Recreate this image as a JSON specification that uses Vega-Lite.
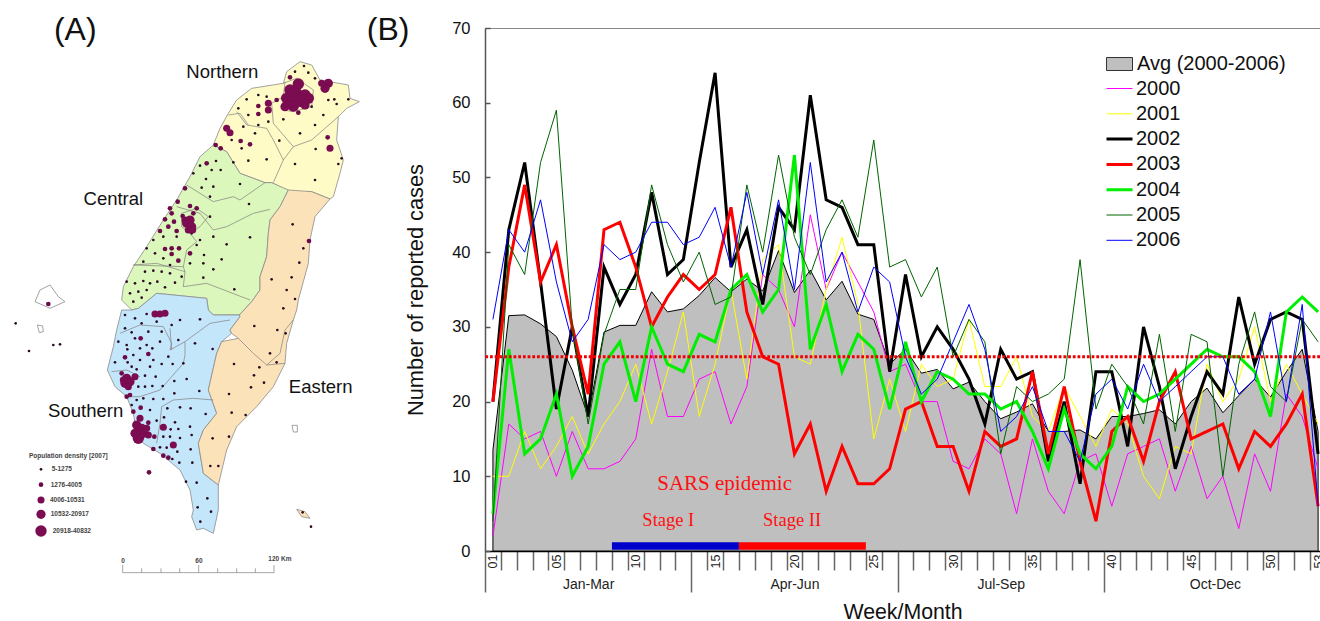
{"$schema":"https://vega.github.io/schema/vega-lite/v6.json","padding":{"left":0,"top":13,"right":0,"bottom":0},"background":"white","bounds":"flush","spacing":0,"resolve":{"scale":{"fill":"independent","stroke":"independent","strokeWidth":"independent","size":"independent"},"legend":{"fill":"independent","stroke":"independent","strokeWidth":"independent","size":"independent"}},"config":{"font":"Liberation Sans","axis":{"grid":false},"view":{"stroke":null}},"datasets":{"regions":[{"type":"Feature","properties":{"region":"Northern"},"geometry":{"type":"Polygon","coordinates":[[[640,435],[660,385],[685,340],[710,300],[755,265],[850,250],[860,215],[900,185],[935,195],[960,240],[1045,255],[1050,295],[1078,305],[1040,325],[1015,350],[1010,420],[1030,480],[1020,520],[1000,590],[990,597],[935,575],[880,580],[860,570],[815,548],[795,548],[720,520],[680,455],[640,435]]]}},{"type":"Feature","properties":{"region":"Central"},"geometry":{"type":"Polygon","coordinates":[[[640,435],[680,455],[720,520],[795,548],[815,548],[865,570],[840,620],[810,660],[805,700],[800,770],[780,830],[780,870],[755,905],[718,945],[640,945],[625,930],[620,895],[470,880],[415,925],[395,930],[365,900],[370,860],[400,800],[440,740],[490,660],[530,600],[570,530],[600,470],[640,435]]]}},{"type":"Feature","properties":{"region":"Southern"},"geometry":{"type":"Polygon","coordinates":[[[415,925],[470,880],[620,895],[625,930],[640,945],[718,945],[720,950],[690,990],[695,1000],[665,1025],[650,1060],[625,1170],[650,1240],[610,1290],[595,1330],[610,1420],[655,1455],[655,1530],[640,1600],[610,1585],[590,1590],[575,1550],[580,1530],[570,1470],[540,1410],[480,1360],[430,1330],[410,1300],[400,1240],[380,1190],[345,1160],[322,1110],[340,1040],[350,990],[365,930],[395,930],[415,925]]]}},{"type":"Feature","properties":{"region":"Eastern"},"geometry":{"type":"Polygon","coordinates":[[[865,570],[935,575],[990,597],[945,650],[930,720],[925,790],[895,900],[890,930],[880,960],[860,1030],[855,1090],[820,1160],[770,1220],[710,1280],[680,1350],[655,1455],[610,1420],[595,1330],[610,1290],[650,1240],[625,1170],[650,1060],[665,1025],[715,1015],[695,1000],[690,990],[720,950],[718,945],[755,905],[780,870],[780,830],[800,770],[805,700],[810,660],[840,620],[865,570]]]}},{"type":"Feature","properties":{"region":"Eastern"},"geometry":{"type":"Polygon","coordinates":[[[890,1528],[915,1535],[930,1555],[905,1550],[890,1528]]]}},{"type":"Feature","properties":{"region":"Island"},"geometry":{"type":"Polygon","coordinates":[[[105,905],[120,870],[150,855],[175,890],[195,905],[150,925],[105,905]]]}},{"type":"Feature","properties":{"region":"Island"},"geometry":{"type":"Polygon","coordinates":[[[112,975],[128,978],[130,995],[118,998],[112,975]]]}},{"type":"Feature","properties":{"region":"Island"},"geometry":{"type":"Polygon","coordinates":[[[876,1276],[892,1276],[892,1296],[880,1296],[876,1276]]]}}],"borders":[{"type":"Feature","properties":{"kind":"county"},"geometry":{"type":"MultiLineString","coordinates":[[[815,310],[820,370],[880,440],[935,420],[1015,350]],[[710,335],[740,375],[800,385],[820,420],[850,480],[820,548]],[[850,480],[880,440]],[[685,345],[720,340],[745,375]],[[855,245],[850,290],[815,310]],[[850,250],[890,235],[940,270],[935,320],[880,335],[850,330]],[[560,555],[640,605],[700,590],[720,600],[795,548]],[[530,620],[600,640],[640,690],[680,680],[760,640],[810,628]],[[545,640],[590,625],[625,650],[600,680],[570,700],[545,680],[545,640]],[[570,700],[590,725],[560,750],[550,800],[400,795]],[[550,800],[555,815],[550,860],[620,850],[750,900]],[[400,795],[470,790],[555,815]],[[360,1000],[420,975],[490,980],[515,1030],[510,1050],[555,1025],[630,970],[690,960]],[[510,985],[515,1050]],[[335,1115],[380,1110],[420,1130]],[[555,1065],[550,1090],[480,1170],[420,1190],[380,1190]],[[555,1025],[555,1065]],[[640,1200],[580,1195],[520,1200],[485,1220],[480,1270],[470,1330]],[[715,1015],[760,1060],[800,1095],[855,1090]],[[880,960],[855,990],[840,1060],[800,1095]]]}},{"type":"Feature","properties":{"kind":"scale bar"},"geometry":{"type":"MultiLineString","coordinates":[[[368,1718],[822,1718]],[[368,1718],[368,1695]],[[425,1718],[425,1705]],[[483,1718],[483,1705]],[[539,1718],[539,1705]],[[596,1718],[596,1695]],[[653,1718],[653,1705]],[[710,1718],[710,1705]],[[766,1718],[766,1705]],[[822,1718],[822,1695]]]}}],"dots":[{"gx":912,"gy":198,"cls":1},{"gx":925,"gy":218,"cls":1},{"gx":885,"gy":215,"cls":1},{"gx":945,"gy":235,"cls":1},{"gx":740,"gy":298,"cls":1},{"gx":775,"gy":285,"cls":1},{"gx":715,"gy":325,"cls":1},{"gx":745,"gy":345,"cls":1},{"gx":800,"gy":290,"cls":1},{"gx":805,"gy":365,"cls":1},{"gx":850,"gy":358,"cls":1},{"gx":900,"gy":400,"cls":1},{"gx":945,"gy":375,"cls":1},{"gx":970,"gy":345,"cls":1},{"gx":1010,"gy":312,"cls":1},{"gx":1045,"gy":298,"cls":1},{"gx":1003,"gy":298,"cls":1},{"gx":985,"gy":300,"cls":1},{"gx":935,"gy":320,"cls":1},{"gx":775,"gy":375,"cls":1},{"gx":730,"gy":380,"cls":1},{"gx":765,"gy":400,"cls":1},{"gx":725,"gy":445,"cls":1},{"gx":695,"gy":420,"cls":1},{"gx":745,"gy":482,"cls":1},{"gx":800,"gy":478,"cls":1},{"gx":838,"gy":422,"cls":1},{"gx":885,"gy":492,"cls":1},{"gx":945,"gy":540,"cls":1},{"gx":947,"gy":447,"cls":1},{"gx":1015,"gy":492,"cls":1},{"gx":1025,"gy":475,"cls":1},{"gx":870,"gy":232,"cls":2},{"gx":830,"gy":300,"cls":2},{"gx":775,"gy":342,"cls":2},{"gx":775,"gy":318,"cls":2},{"gx":722,"gy":423,"cls":2},{"gx":750,"gy":433,"cls":2},{"gx":983,"gy":412,"cls":2},{"gx":647,"gy":435,"cls":2},{"gx":662,"gy":445,"cls":2},{"gx":895,"gy":252,"cls":5},{"gx":870,"gy":270,"cls":5},{"gx":890,"gy":280,"cls":5},{"gx":915,"gy":285,"cls":5},{"gx":860,"gy":295,"cls":5},{"gx":880,"gy":300,"cls":5},{"gx":905,"gy":305,"cls":5},{"gx":925,"gy":295,"cls":5},{"gx":855,"gy":320,"cls":4},{"gx":880,"gy":318,"cls":5},{"gx":915,"gy":315,"cls":4},{"gx":895,"gy":338,"cls":2},{"gx":805,"gy":310,"cls":3},{"gx":805,"gy":330,"cls":3},{"gx":985,"gy":250,"cls":4},{"gx":975,"gy":265,"cls":4},{"gx":965,"gy":250,"cls":3},{"gx":680,"gy":385,"cls":3},{"gx":690,"gy":398,"cls":3},{"gx":990,"gy":445,"cls":3},{"gx":580,"gy":520,"cls":1},{"gx":600,"gy":497,"cls":1},{"gx":648,"gy":483,"cls":1},{"gx":635,"gy":510,"cls":1},{"gx":662,"gy":510,"cls":1},{"gx":700,"gy":487,"cls":1},{"gx":618,"gy":537,"cls":1},{"gx":640,"gy":560,"cls":1},{"gx":605,"gy":563,"cls":1},{"gx":720,"gy":552,"cls":1},{"gx":747,"gy":612,"cls":1},{"gx":630,"gy":590,"cls":1},{"gx":630,"gy":650,"cls":1},{"gx":640,"gy":710,"cls":1},{"gx":680,"gy":733,"cls":1},{"gx":750,"gy":712,"cls":1},{"gx":612,"gy":765,"cls":1},{"gx":665,"gy":778,"cls":1},{"gx":610,"gy":790,"cls":1},{"gx":640,"gy":808,"cls":1},{"gx":610,"gy":833,"cls":1},{"gx":703,"gy":868,"cls":1},{"gx":490,"gy":710,"cls":1},{"gx":460,"gy":720,"cls":1},{"gx":440,"gy":745,"cls":1},{"gx":465,"gy":760,"cls":1},{"gx":530,"gy":710,"cls":1},{"gx":575,"gy":700,"cls":1},{"gx":600,"gy":720,"cls":1},{"gx":590,"gy":735,"cls":1},{"gx":430,"gy":785,"cls":1},{"gx":510,"gy":795,"cls":1},{"gx":490,"gy":775,"cls":1},{"gx":570,"gy":790,"cls":1},{"gx":435,"gy":815,"cls":1},{"gx":460,"gy":812,"cls":1},{"gx":485,"gy":815,"cls":1},{"gx":510,"gy":820,"cls":1},{"gx":545,"gy":830,"cls":1},{"gx":380,"gy":845,"cls":1},{"gx":405,"gy":850,"cls":1},{"gx":430,"gy":843,"cls":1},{"gx":450,"gy":850,"cls":1},{"gx":472,"gy":845,"cls":1},{"gx":495,"gy":862,"cls":1},{"gx":525,"gy":848,"cls":1},{"gx":415,"gy":875,"cls":1},{"gx":390,"gy":880,"cls":1},{"gx":440,"gy":870,"cls":1},{"gx":400,"gy":905,"cls":1},{"gx":425,"gy":893,"cls":1},{"gx":620,"gy":490,"cls":2},{"gx":555,"gy":565,"cls":2},{"gx":533,"gy":605,"cls":2},{"gx":510,"gy":625,"cls":2},{"gx":570,"gy":618,"cls":2},{"gx":515,"gy":640,"cls":2},{"gx":590,"gy":625,"cls":2},{"gx":495,"gy":658,"cls":2},{"gx":522,"gy":665,"cls":2},{"gx":505,"gy":680,"cls":2},{"gx":480,"gy":693,"cls":2},{"gx":530,"gy":693,"cls":2},{"gx":548,"gy":648,"cls":2},{"gx":495,"gy":747,"cls":2},{"gx":537,"gy":745,"cls":2},{"gx":515,"gy":745,"cls":2},{"gx":570,"gy":760,"cls":2},{"gx":515,"gy":762,"cls":2},{"gx":535,"gy":782,"cls":2},{"gx":580,"gy":640,"cls":2},{"gx":570,"gy":660,"cls":4},{"gx":560,"gy":670,"cls":4},{"gx":575,"gy":680,"cls":4},{"gx":565,"gy":690,"cls":3},{"gx":578,"gy":690,"cls":3},{"gx":555,"gy":660,"cls":3},{"gx":878,"gy":673,"cls":1},{"gx":910,"gy":745,"cls":1},{"gx":898,"gy":788,"cls":1},{"gx":815,"gy":838,"cls":1},{"gx":875,"gy":832,"cls":1},{"gx":860,"gy":870,"cls":1},{"gx":885,"gy":897,"cls":1},{"gx":850,"gy":925,"cls":1},{"gx":927,"gy":723,"cls":2},{"gx":375,"gy":945,"cls":1},{"gx":405,"gy":955,"cls":1},{"gx":440,"gy":942,"cls":1},{"gx":540,"gy":960,"cls":1},{"gx":600,"gy":958,"cls":1},{"gx":425,"gy":970,"cls":1},{"gx":470,"gy":965,"cls":1},{"gx":515,"gy":975,"cls":1},{"gx":375,"gy":985,"cls":1},{"gx":395,"gy":997,"cls":1},{"gx":445,"gy":995,"cls":1},{"gx":485,"gy":995,"cls":1},{"gx":405,"gy":1015,"cls":1},{"gx":535,"gy":1020,"cls":1},{"gx":355,"gy":1025,"cls":1},{"gx":380,"gy":1035,"cls":1},{"gx":440,"gy":1035,"cls":1},{"gx":480,"gy":1025,"cls":1},{"gx":585,"gy":1030,"cls":1},{"gx":638,"gy":1047,"cls":1},{"gx":382,"gy":1048,"cls":1},{"gx":420,"gy":1045,"cls":1},{"gx":457,"gy":1045,"cls":1},{"gx":400,"gy":1065,"cls":1},{"gx":505,"gy":1070,"cls":1},{"gx":345,"gy":1087,"cls":1},{"gx":383,"gy":1087,"cls":1},{"gx":420,"gy":1080,"cls":1},{"gx":460,"gy":1080,"cls":1},{"gx":485,"gy":1092,"cls":1},{"gx":518,"gy":1092,"cls":1},{"gx":395,"gy":1100,"cls":1},{"gx":450,"gy":1100,"cls":1},{"gx":550,"gy":1090,"cls":1},{"gx":410,"gy":1108,"cls":1},{"gx":435,"gy":1127,"cls":1},{"gx":467,"gy":1130,"cls":1},{"gx":523,"gy":1143,"cls":1},{"gx":560,"gy":1137,"cls":1},{"gx":415,"gy":1160,"cls":1},{"gx":435,"gy":1160,"cls":1},{"gx":457,"gy":1158,"cls":1},{"gx":488,"gy":1158,"cls":1},{"gx":598,"gy":1173,"cls":1},{"gx":523,"gy":1180,"cls":1},{"gx":395,"gy":1215,"cls":1},{"gx":430,"gy":1195,"cls":1},{"gx":460,"gy":1197,"cls":1},{"gx":490,"gy":1197,"cls":1},{"gx":410,"gy":1200,"cls":1},{"gx":450,"gy":1230,"cls":1},{"gx":502,"gy":1225,"cls":1},{"gx":540,"gy":1222,"cls":1},{"gx":572,"gy":1225,"cls":1},{"gx":617,"gy":1242,"cls":1},{"gx":470,"gy":1262,"cls":1},{"gx":492,"gy":1252,"cls":1},{"gx":525,"gy":1267,"cls":1},{"gx":570,"gy":1280,"cls":1},{"gx":512,"gy":1288,"cls":1},{"gx":535,"gy":1287,"cls":1},{"gx":575,"gy":1305,"cls":1},{"gx":490,"gy":1310,"cls":1},{"gx":510,"gy":1310,"cls":1},{"gx":540,"gy":1314,"cls":1},{"gx":572,"gy":1348,"cls":1},{"gx":480,"gy":1342,"cls":1},{"gx":500,"gy":1343,"cls":1},{"gx":532,"gy":1355,"cls":1},{"gx":538,"gy":1388,"cls":1},{"gx":577,"gy":1388,"cls":1},{"gx":517,"gy":1377,"cls":1},{"gx":558,"gy":1445,"cls":1},{"gx":590,"gy":1448,"cls":1},{"gx":622,"gy":1495,"cls":1},{"gx":593,"gy":1522,"cls":1},{"gx":633,"gy":1535,"cls":1},{"gx":601,"gy":1565,"cls":1},{"gx":422,"gy":1015,"cls":2},{"gx":375,"gy":1072,"cls":2},{"gx":445,"gy":1062,"cls":2},{"gx":365,"gy":1120,"cls":2},{"gx":390,"gy":1185,"cls":2},{"gx":380,"gy":1190,"cls":2},{"gx":422,"gy":1223,"cls":2},{"gx":400,"gy":1235,"cls":2},{"gx":490,"gy":1282,"cls":3},{"gx":520,"gy":1335,"cls":3},{"gx":460,"gy":1347,"cls":2},{"gx":490,"gy":1367,"cls":2},{"gx":505,"gy":1373,"cls":2},{"gx":447,"gy":1417,"cls":2},{"gx":463,"gy":1310,"cls":2},{"gx":445,"gy":1268,"cls":2},{"gx":465,"gy":942,"cls":3},{"gx":480,"gy":942,"cls":3},{"gx":495,"gy":940,"cls":3},{"gx":380,"gy":1135,"cls":4},{"gx":375,"gy":1150,"cls":4},{"gx":390,"gy":1145,"cls":4},{"gx":385,"gy":1160,"cls":3},{"gx":405,"gy":1130,"cls":3},{"gx":370,"gy":1140,"cls":3},{"gx":420,"gy":1255,"cls":3},{"gx":410,"gy":1275,"cls":4},{"gx":425,"gy":1285,"cls":4},{"gx":415,"gy":1295,"cls":4},{"gx":430,"gy":1300,"cls":4},{"gx":445,"gy":1305,"cls":3},{"gx":415,"gy":1315,"cls":5},{"gx":440,"gy":1285,"cls":3},{"gx":405,"gy":1300,"cls":4},{"gx":763,"gy":978,"cls":1},{"gx":832,"gy":990,"cls":1},{"gx":857,"gy":1000,"cls":1},{"gx":810,"gy":1060,"cls":1},{"gx":830,"gy":1087,"cls":1},{"gx":778,"gy":1102,"cls":1},{"gx":702,"gy":1092,"cls":1},{"gx":762,"gy":1126,"cls":1},{"gx":792,"gy":1148,"cls":1},{"gx":753,"gy":1162,"cls":1},{"gx":687,"gy":1182,"cls":1},{"gx":695,"gy":1238,"cls":1},{"gx":737,"gy":1245,"cls":1},{"gx":638,"gy":1315,"cls":1},{"gx":687,"gy":1310,"cls":1},{"gx":631,"gy":1398,"cls":1},{"gx":655,"gy":1398,"cls":1},{"gx":908,"gy":1537,"cls":1},{"gx":933,"gy":1580,"cls":1},{"gx":145,"gy":912,"cls":2},{"gx":87,"gy":1053,"cls":1},{"gx":160,"gy":1035,"cls":1},{"gx":180,"gy":1033,"cls":1},{"gx":47,"gy":970,"cls":1},{"gx":123,"gy":1408,"cls":1},{"gx":123,"gy":1454,"cls":2},{"gx":123,"gy":1500,"cls":3},{"gx":123,"gy":1543,"cls":4},{"gx":123,"gy":1593,"cls":5}],"panelLabels":[{"week":-25.32,"cases":69.75,"label":"(A)"},{"week":-5.6,"cases":69.75,"label":"(B)"}],"mapRegions":[{"gx":667,"gy":217,"label":"Northern"},{"gx":340,"gy":598,"label":"Central"},{"gx":962,"gy":1160,"label":"Eastern"},{"gx":257,"gy":1232,"label":"Southern"}],"mapSmallText":[{"gx":87,"gy":1368,"label":"Population density [2007]"},{"gx":155,"gy":1408,"label":"5-1275"},{"gx":152,"gy":1454,"label":"1276-4005"},{"gx":150,"gy":1500,"label":"4006-10531"},{"gx":152,"gy":1543,"label":"10532-20917"},{"gx":158,"gy":1593,"label":"20918-40832"},{"gx":364,"gy":1682,"label":"0"},{"gx":586,"gy":1682,"label":"60"},{"gx":805,"gy":1677,"label":"120 Km"}],"avg":[{"week":1,"series":"Avg (2000-2006)","cases":13.5},{"week":2,"series":"Avg (2000-2006)","cases":31.5},{"week":3,"series":"Avg (2000-2006)","cases":31.6},{"week":4,"series":"Avg (2000-2006)","cases":30.4},{"week":5,"series":"Avg (2000-2006)","cases":28.7},{"week":6,"series":"Avg (2000-2006)","cases":24.2},{"week":7,"series":"Avg (2000-2006)","cases":18},{"week":8,"series":"Avg (2000-2006)","cases":29.3},{"week":9,"series":"Avg (2000-2006)","cases":30.2},{"week":10,"series":"Avg (2000-2006)","cases":30.2},{"week":11,"series":"Avg (2000-2006)","cases":34.7},{"week":12,"series":"Avg (2000-2006)","cases":32},{"week":13,"series":"Avg (2000-2006)","cases":32.4},{"week":14,"series":"Avg (2000-2006)","cases":34.2},{"week":15,"series":"Avg (2000-2006)","cases":36.6},{"week":16,"series":"Avg (2000-2006)","cases":34.7},{"week":17,"series":"Avg (2000-2006)","cases":36.4},{"week":18,"series":"Avg (2000-2006)","cases":34.8},{"week":19,"series":"Avg (2000-2006)","cases":40.2},{"week":20,"series":"Avg (2000-2006)","cases":34.6},{"week":21,"series":"Avg (2000-2006)","cases":37.6},{"week":22,"series":"Avg (2000-2006)","cases":33.6},{"week":23,"series":"Avg (2000-2006)","cases":36.1},{"week":24,"series":"Avg (2000-2006)","cases":31.7},{"week":25,"series":"Avg (2000-2006)","cases":31},{"week":26,"series":"Avg (2000-2006)","cases":25},{"week":27,"series":"Avg (2000-2006)","cases":27},{"week":28,"series":"Avg (2000-2006)","cases":23.8},{"week":29,"series":"Avg (2000-2006)","cases":24.3},{"week":30,"series":"Avg (2000-2006)","cases":21.7},{"week":31,"series":"Avg (2000-2006)","cases":22.6},{"week":32,"series":"Avg (2000-2006)","cases":20},{"week":33,"series":"Avg (2000-2006)","cases":17.7},{"week":34,"series":"Avg (2000-2006)","cases":18.6},{"week":35,"series":"Avg (2000-2006)","cases":19.7},{"week":36,"series":"Avg (2000-2006)","cases":16},{"week":37,"series":"Avg (2000-2006)","cases":16},{"week":38,"series":"Avg (2000-2006)","cases":16.2},{"week":39,"series":"Avg (2000-2006)","cases":15},{"week":40,"series":"Avg (2000-2006)","cases":18},{"week":41,"series":"Avg (2000-2006)","cases":18},{"week":42,"series":"Avg (2000-2006)","cases":18.4},{"week":43,"series":"Avg (2000-2006)","cases":18.9},{"week":44,"series":"Avg (2000-2006)","cases":17},{"week":45,"series":"Avg (2000-2006)","cases":20},{"week":46,"series":"Avg (2000-2006)","cases":21.8},{"week":47,"series":"Avg (2000-2006)","cases":18.5},{"week":48,"series":"Avg (2000-2006)","cases":20.8},{"week":49,"series":"Avg (2000-2006)","cases":23},{"week":50,"series":"Avg (2000-2006)","cases":20.6},{"week":51,"series":"Avg (2000-2006)","cases":24},{"week":52,"series":"Avg (2000-2006)","cases":27},{"week":53,"series":"Avg (2000-2006)","cases":16}],"stages":[{"stage":"Stage I","start":8.5,"end":16.5},{"stage":"Stage II","start":16.5,"end":24.5}],"notes":[{"week":15.6,"cases":9,"label":"SARS epidemic"},{"week":12.05,"cases":4.2,"label":"Stage I"},{"week":19.85,"cases":4.2,"label":"Stage II"}],"years":[{"week":1,"year":"2000","cases":2},{"week":2,"year":"2000","cases":17},{"week":3,"year":"2000","cases":15},{"week":4,"year":"2000","cases":16},{"week":5,"year":"2000","cases":10},{"week":6,"year":"2000","cases":16},{"week":7,"year":"2000","cases":11},{"week":8,"year":"2000","cases":11},{"week":9,"year":"2000","cases":12},{"week":10,"year":"2000","cases":15},{"week":11,"year":"2000","cases":27},{"week":12,"year":"2000","cases":18},{"week":13,"year":"2000","cases":18},{"week":14,"year":"2000","cases":23},{"week":15,"year":"2000","cases":24},{"week":16,"year":"2000","cases":17},{"week":17,"year":"2000","cases":22},{"week":18,"year":"2000","cases":37},{"week":19,"year":"2000","cases":35},{"week":20,"year":"2000","cases":30},{"week":21,"year":"2000","cases":45},{"week":22,"year":"2000","cases":35},{"week":23,"year":"2000","cases":40},{"week":24,"year":"2000","cases":36},{"week":25,"year":"2000","cases":32},{"week":26,"year":"2000","cases":24},{"week":27,"year":"2000","cases":25},{"week":28,"year":"2000","cases":20},{"week":29,"year":"2000","cases":20},{"week":30,"year":"2000","cases":12},{"week":31,"year":"2000","cases":11},{"week":32,"year":"2000","cases":15},{"week":33,"year":"2000","cases":13},{"week":34,"year":"2000","cases":5},{"week":35,"year":"2000","cases":15},{"week":36,"year":"2000","cases":8},{"week":37,"year":"2000","cases":5},{"week":38,"year":"2000","cases":12},{"week":39,"year":"2000","cases":13},{"week":40,"year":"2000","cases":6},{"week":41,"year":"2000","cases":13},{"week":42,"year":"2000","cases":14},{"week":43,"year":"2000","cases":15},{"week":44,"year":"2000","cases":8},{"week":45,"year":"2000","cases":14},{"week":46,"year":"2000","cases":7},{"week":47,"year":"2000","cases":10},{"week":48,"year":"2000","cases":3},{"week":49,"year":"2000","cases":13},{"week":50,"year":"2000","cases":8},{"week":51,"year":"2000","cases":21},{"week":52,"year":"2000","cases":18},{"week":53,"year":"2000","cases":11},{"week":1,"year":"2001","cases":10},{"week":2,"year":"2001","cases":10},{"week":3,"year":"2001","cases":16},{"week":4,"year":"2001","cases":11},{"week":5,"year":"2001","cases":14},{"week":6,"year":"2001","cases":18},{"week":7,"year":"2001","cases":13},{"week":8,"year":"2001","cases":17},{"week":9,"year":"2001","cases":20},{"week":10,"year":"2001","cases":25},{"week":11,"year":"2001","cases":17},{"week":12,"year":"2001","cases":24},{"week":13,"year":"2001","cases":32},{"week":14,"year":"2001","cases":18},{"week":15,"year":"2001","cases":25},{"week":16,"year":"2001","cases":35},{"week":17,"year":"2001","cases":23},{"week":18,"year":"2001","cases":39},{"week":19,"year":"2001","cases":41},{"week":20,"year":"2001","cases":26},{"week":21,"year":"2001","cases":25},{"week":22,"year":"2001","cases":35},{"week":23,"year":"2001","cases":42},{"week":24,"year":"2001","cases":33},{"week":25,"year":"2001","cases":15},{"week":26,"year":"2001","cases":23},{"week":27,"year":"2001","cases":16},{"week":28,"year":"2001","cases":25},{"week":29,"year":"2001","cases":22},{"week":30,"year":"2001","cases":23},{"week":31,"year":"2001","cases":31},{"week":32,"year":"2001","cases":22},{"week":33,"year":"2001","cases":22},{"week":34,"year":"2001","cases":26},{"week":35,"year":"2001","cases":18},{"week":36,"year":"2001","cases":16},{"week":37,"year":"2001","cases":22},{"week":38,"year":"2001","cases":18},{"week":39,"year":"2001","cases":14},{"week":40,"year":"2001","cases":19},{"week":41,"year":"2001","cases":17},{"week":42,"year":"2001","cases":10},{"week":43,"year":"2001","cases":7},{"week":44,"year":"2001","cases":14},{"week":45,"year":"2001","cases":13},{"week":46,"year":"2001","cases":25},{"week":47,"year":"2001","cases":20},{"week":48,"year":"2001","cases":23},{"week":49,"year":"2001","cases":30},{"week":50,"year":"2001","cases":20},{"week":51,"year":"2001","cases":25},{"week":52,"year":"2001","cases":21},{"week":53,"year":"2001","cases":17},{"week":1,"year":"2002","cases":20},{"week":2,"year":"2002","cases":43},{"week":3,"year":"2002","cases":52},{"week":4,"year":"2002","cases":36},{"week":5,"year":"2002","cases":19},{"week":6,"year":"2002","cases":30},{"week":7,"year":"2002","cases":18},{"week":8,"year":"2002","cases":38},{"week":9,"year":"2002","cases":33},{"week":10,"year":"2002","cases":37},{"week":11,"year":"2002","cases":48},{"week":12,"year":"2002","cases":37},{"week":13,"year":"2002","cases":39},{"week":14,"year":"2002","cases":52},{"week":15,"year":"2002","cases":64},{"week":16,"year":"2002","cases":38},{"week":17,"year":"2002","cases":43},{"week":18,"year":"2002","cases":33},{"week":19,"year":"2002","cases":46},{"week":20,"year":"2002","cases":43},{"week":21,"year":"2002","cases":61},{"week":22,"year":"2002","cases":47},{"week":23,"year":"2002","cases":46},{"week":24,"year":"2002","cases":41},{"week":25,"year":"2002","cases":41},{"week":26,"year":"2002","cases":24},{"week":27,"year":"2002","cases":37},{"week":28,"year":"2002","cases":26},{"week":29,"year":"2002","cases":30},{"week":30,"year":"2002","cases":27},{"week":31,"year":"2002","cases":23},{"week":32,"year":"2002","cases":17},{"week":33,"year":"2002","cases":27},{"week":34,"year":"2002","cases":23},{"week":35,"year":"2002","cases":24},{"week":36,"year":"2002","cases":12},{"week":37,"year":"2002","cases":20},{"week":38,"year":"2002","cases":9},{"week":39,"year":"2002","cases":24},{"week":40,"year":"2002","cases":24},{"week":41,"year":"2002","cases":14},{"week":42,"year":"2002","cases":30},{"week":43,"year":"2002","cases":22},{"week":44,"year":"2002","cases":11},{"week":45,"year":"2002","cases":18},{"week":46,"year":"2002","cases":24},{"week":47,"year":"2002","cases":21},{"week":48,"year":"2002","cases":34},{"week":49,"year":"2002","cases":25},{"week":50,"year":"2002","cases":31},{"week":51,"year":"2002","cases":32},{"week":52,"year":"2002","cases":31},{"week":53,"year":"2002","cases":13},{"week":1,"year":"2003","cases":20},{"week":2,"year":"2003","cases":38},{"week":3,"year":"2003","cases":49},{"week":4,"year":"2003","cases":36},{"week":5,"year":"2003","cases":41},{"week":6,"year":"2003","cases":30},{"week":7,"year":"2003","cases":21},{"week":8,"year":"2003","cases":43},{"week":9,"year":"2003","cases":44},{"week":10,"year":"2003","cases":38},{"week":11,"year":"2003","cases":30},{"week":12,"year":"2003","cases":34},{"week":13,"year":"2003","cases":37},{"week":14,"year":"2003","cases":35},{"week":15,"year":"2003","cases":37},{"week":16,"year":"2003","cases":46},{"week":17,"year":"2003","cases":32},{"week":18,"year":"2003","cases":26},{"week":19,"year":"2003","cases":25},{"week":20,"year":"2003","cases":13},{"week":21,"year":"2003","cases":17},{"week":22,"year":"2003","cases":8},{"week":23,"year":"2003","cases":14},{"week":24,"year":"2003","cases":9},{"week":25,"year":"2003","cases":9},{"week":26,"year":"2003","cases":11},{"week":27,"year":"2003","cases":19},{"week":28,"year":"2003","cases":20},{"week":29,"year":"2003","cases":14},{"week":30,"year":"2003","cases":14},{"week":31,"year":"2003","cases":8},{"week":32,"year":"2003","cases":16},{"week":33,"year":"2003","cases":14},{"week":34,"year":"2003","cases":15},{"week":35,"year":"2003","cases":24},{"week":36,"year":"2003","cases":13},{"week":37,"year":"2003","cases":22},{"week":38,"year":"2003","cases":12},{"week":39,"year":"2003","cases":4},{"week":40,"year":"2003","cases":16},{"week":41,"year":"2003","cases":18},{"week":42,"year":"2003","cases":12},{"week":43,"year":"2003","cases":20},{"week":44,"year":"2003","cases":24},{"week":45,"year":"2003","cases":15},{"week":46,"year":"2003","cases":16},{"week":47,"year":"2003","cases":17},{"week":48,"year":"2003","cases":11},{"week":49,"year":"2003","cases":16},{"week":50,"year":"2003","cases":14},{"week":51,"year":"2003","cases":17},{"week":52,"year":"2003","cases":21},{"week":53,"year":"2003","cases":6},{"week":1,"year":"2004","cases":5},{"week":2,"year":"2004","cases":27},{"week":3,"year":"2004","cases":13},{"week":4,"year":"2004","cases":15},{"week":5,"year":"2004","cases":21},{"week":6,"year":"2004","cases":10},{"week":7,"year":"2004","cases":14},{"week":8,"year":"2004","cases":25},{"week":9,"year":"2004","cases":28},{"week":10,"year":"2004","cases":20},{"week":11,"year":"2004","cases":30},{"week":12,"year":"2004","cases":25},{"week":13,"year":"2004","cases":24},{"week":14,"year":"2004","cases":29},{"week":15,"year":"2004","cases":28},{"week":16,"year":"2004","cases":35},{"week":17,"year":"2004","cases":37},{"week":18,"year":"2004","cases":32},{"week":19,"year":"2004","cases":35},{"week":20,"year":"2004","cases":53},{"week":21,"year":"2004","cases":27},{"week":22,"year":"2004","cases":33},{"week":23,"year":"2004","cases":24},{"week":24,"year":"2004","cases":29},{"week":25,"year":"2004","cases":27},{"week":26,"year":"2004","cases":19},{"week":27,"year":"2004","cases":28},{"week":28,"year":"2004","cases":20},{"week":29,"year":"2004","cases":24},{"week":30,"year":"2004","cases":23},{"week":31,"year":"2004","cases":21},{"week":32,"year":"2004","cases":21},{"week":33,"year":"2004","cases":19},{"week":34,"year":"2004","cases":20},{"week":35,"year":"2004","cases":16},{"week":36,"year":"2004","cases":11},{"week":37,"year":"2004","cases":19},{"week":38,"year":"2004","cases":13},{"week":39,"year":"2004","cases":11},{"week":40,"year":"2004","cases":14},{"week":41,"year":"2004","cases":22},{"week":42,"year":"2004","cases":20},{"week":43,"year":"2004","cases":21},{"week":44,"year":"2004","cases":23},{"week":45,"year":"2004","cases":25},{"week":46,"year":"2004","cases":27},{"week":47,"year":"2004","cases":26},{"week":48,"year":"2004","cases":26},{"week":49,"year":"2004","cases":24},{"week":50,"year":"2004","cases":18},{"week":51,"year":"2004","cases":32},{"week":52,"year":"2004","cases":34},{"week":53,"year":"2004","cases":32},{"week":1,"year":"2005","cases":4},{"week":2,"year":"2005","cases":41},{"week":3,"year":"2005","cases":37},{"week":4,"year":"2005","cases":52},{"week":5,"year":"2005","cases":59},{"week":6,"year":"2005","cases":30},{"week":7,"year":"2005","cases":17},{"week":8,"year":"2005","cases":29},{"week":9,"year":"2005","cases":35},{"week":10,"year":"2005","cases":35},{"week":11,"year":"2005","cases":49},{"week":12,"year":"2005","cases":41},{"week":13,"year":"2005","cases":36},{"week":14,"year":"2005","cases":40},{"week":15,"year":"2005","cases":33},{"week":16,"year":"2005","cases":34},{"week":17,"year":"2005","cases":49},{"week":18,"year":"2005","cases":40},{"week":19,"year":"2005","cases":53},{"week":20,"year":"2005","cases":42},{"week":21,"year":"2005","cases":37},{"week":22,"year":"2005","cases":43},{"week":23,"year":"2005","cases":47},{"week":24,"year":"2005","cases":42},{"week":25,"year":"2005","cases":55},{"week":26,"year":"2005","cases":38},{"week":27,"year":"2005","cases":39},{"week":28,"year":"2005","cases":34},{"week":29,"year":"2005","cases":38},{"week":30,"year":"2005","cases":26},{"week":31,"year":"2005","cases":31},{"week":32,"year":"2005","cases":28},{"week":33,"year":"2005","cases":13},{"week":34,"year":"2005","cases":22},{"week":35,"year":"2005","cases":20},{"week":36,"year":"2005","cases":21},{"week":37,"year":"2005","cases":23},{"week":38,"year":"2005","cases":39},{"week":39,"year":"2005","cases":19},{"week":40,"year":"2005","cases":25},{"week":41,"year":"2005","cases":22},{"week":42,"year":"2005","cases":17},{"week":43,"year":"2005","cases":29},{"week":44,"year":"2005","cases":16},{"week":45,"year":"2005","cases":29},{"week":46,"year":"2005","cases":28},{"week":47,"year":"2005","cases":10},{"week":48,"year":"2005","cases":25},{"week":49,"year":"2005","cases":32},{"week":50,"year":"2005","cases":22},{"week":51,"year":"2005","cases":20},{"week":52,"year":"2005","cases":31},{"week":53,"year":"2005","cases":28},{"week":1,"year":"2006","cases":31},{"week":2,"year":"2006","cases":43},{"week":3,"year":"2006","cases":40},{"week":4,"year":"2006","cases":47},{"week":5,"year":"2006","cases":36},{"week":6,"year":"2006","cases":28},{"week":7,"year":"2006","cases":31},{"week":8,"year":"2006","cases":41},{"week":9,"year":"2006","cases":39},{"week":10,"year":"2006","cases":40},{"week":11,"year":"2006","cases":44},{"week":12,"year":"2006","cases":44},{"week":13,"year":"2006","cases":41},{"week":14,"year":"2006","cases":42},{"week":15,"year":"2006","cases":46},{"week":16,"year":"2006","cases":38},{"week":17,"year":"2006","cases":48},{"week":18,"year":"2006","cases":37},{"week":19,"year":"2006","cases":47},{"week":20,"year":"2006","cases":35},{"week":21,"year":"2006","cases":52},{"week":22,"year":"2006","cases":36},{"week":23,"year":"2006","cases":40},{"week":24,"year":"2006","cases":32},{"week":25,"year":"2006","cases":38},{"week":26,"year":"2006","cases":36},{"week":27,"year":"2006","cases":26},{"week":28,"year":"2006","cases":21},{"week":29,"year":"2006","cases":23},{"week":30,"year":"2006","cases":28},{"week":31,"year":"2006","cases":33},{"week":32,"year":"2006","cases":27},{"week":33,"year":"2006","cases":16},{"week":34,"year":"2006","cases":18},{"week":35,"year":"2006","cases":22},{"week":36,"year":"2006","cases":16},{"week":37,"year":"2006","cases":16},{"week":38,"year":"2006","cases":12},{"week":39,"year":"2006","cases":21},{"week":40,"year":"2006","cases":23},{"week":41,"year":"2006","cases":19},{"week":42,"year":"2006","cases":25},{"week":43,"year":"2006","cases":20},{"week":44,"year":"2006","cases":22},{"week":45,"year":"2006","cases":24},{"week":46,"year":"2006","cases":26},{"week":47,"year":"2006","cases":26},{"week":48,"year":"2006","cases":21},{"week":49,"year":"2006","cases":23},{"week":50,"year":"2006","cases":32},{"week":51,"year":"2006","cases":20},{"week":52,"year":"2006","cases":33},{"week":53,"year":"2006","cases":6}]},"hconcat":[{"width":485,"height":593,"projection":{"type":"identity","scale":0.33333,"translate":[0,-28]},"layer":[{"data":{"name":"regions"},"mark":{"type":"geoshape","stroke":"#8a8a8a","strokeWidth":0.8},"encoding":{"fill":{"field":"properties.region","type":"nominal","legend":null,"scale":{"domain":["Northern","Central","Southern","Eastern","Island"],"range":["#fffbc6","#dcf7bb","#c4e6fb","#fce2b8","#ffffff"]}}}},{"data":{"name":"borders"},"mark":{"type":"geoshape","filled":false,"stroke":"#7f7f7f","strokeWidth":0.7},"encoding":{}},{"data":{"name":"dots"},"mark":{"type":"circle","opacity":1},"encoding":{"longitude":{"field":"gx","type":"quantitative"},"latitude":{"field":"gy","type":"quantitative"},"size":{"field":"cls","type":"ordinal","legend":null,"scale":{"type":"ordinal","domain":[1,2,3,4,5],"range":[7,22,50,85,130]}},"color":{"field":"cls","type":"ordinal","legend":null,"scale":{"domain":[1,2,3,4,5],"range":["#2a0a22","#6d0a49","#7b0c52","#7b0c52","#7b0c52"]}}}},{"data":{"name":"mapRegions"},"mark":{"type":"text","fontSize":18.5,"font":"Liberation Sans","color":"#111"},"encoding":{"longitude":{"field":"gx","type":"quantitative"},"latitude":{"field":"gy","type":"quantitative"},"text":{"field":"label"}}},{"data":{"name":"mapSmallText"},"mark":{"type":"text","fontSize":6.5,"fontWeight":"bold","align":"left","font":"Liberation Sans","color":"#444"},"encoding":{"longitude":{"field":"gx","type":"quantitative"},"latitude":{"field":"gy","type":"quantitative"},"text":{"field":"label"}}}]},{"width":835,"height":523,"view":{"stroke":"#888888"},"resolve":{"axis":{"x":"independent"}},"layer":[{"data":{"name":"avg"},"mark":{"type":"area","stroke":"#000000","strokeWidth":1},"encoding":{"x":{"field":"week","type":"quantitative","scale":{"domain":[0.5,53.12],"nice":false,"zero":false},"axis":{"orient":"bottom","values":[1.5,2.5,3.5,4.5,5.5,6.5,7.5,8.5,9.5,10.5,11.5,12.5,14.5,15.5,16.5,17.5,18.5,19.5,20.5,21.5,22.5,23.5,24.5,25.5,27.5,28.5,29.5,30.5,31.5,32.5,33.5,34.5,35.5,36.5,37.5,38.5,40.5,41.5,42.5,43.5,44.5,45.5,46.5,47.5,48.5,49.5,50.5,51.5,52.5],"labels":false,"title":null,"tickSize":19,"tickColor":"#666666","tickWidth":1.5,"domainColor":"#000000","domainWidth":1.5}},"y":{"field":"cases","type":"quantitative","scale":{"domain":[0,70],"nice":false},"axis":{"values":[0,10,20,30,40,50,60,70],"title":"Number of reported cases","titleFontSize":21.8,"titleFont":"Liberation Sans","titleFontWeight":"normal","titleColor":"#111","titlePadding":24,"labelFontSize":16.5,"labelColor":"#111","labelPadding":20,"tickSize":-5,"tickColor":"#555555","tickWidth":1.5,"domainColor":"#555555","domainWidth":1.5}},"fill":{"field":"series","type":"nominal","scale":{"domain":["Avg (2000-2006)"],"range":["#bfbfbf"]},"legend":{"title":null,"orient":"none","legendX":621,"legendY":23,"padding":0,"symbolType":"M-1,-0.5H1V0.5H-1Z","symbolSize":676,"symbolStrokeColor":"#333333","symbolStrokeWidth":1,"symbolFillColor":"#bfbfbf","labelFontSize":20,"labelColor":"#111","labelOffset":4,"clipHeight":26}}}},{"data":{"name":"years"},"mark":{"type":"line"},"encoding":{"x":{"field":"week","type":"quantitative","axis":{"orient":"bottom","values":[0.5,13.5,26.5,39.5],"labels":false,"title":null,"domain":false,"tickSize":41,"tickColor":"#666666","tickWidth":1.5}},"y":{"field":"cases","type":"quantitative"},"stroke":{"field":"year","type":"nominal","scale":{"domain":["2000","2001","2002","2003","2004","2005","2006"],"range":["#ff00ff","#ffff00","#000000","#ff0000","#00ee00","#006400","#0000ff"]},"legend":{"title":null,"orient":"none","legendX":620,"legendY":48,"padding":0,"symbolType":"stroke","symbolSize":676,"labelFontSize":20,"labelColor":"#111","labelOffset":2,"clipHeight":25,"rowPadding":0.3}},"strokeWidth":{"field":"year","type":"nominal","scale":{"type":"ordinal","domain":["2000","2001","2002","2003","2004","2005","2006"],"range":[1,1,3,3,3,1,1]},"legend":{"title":null,"orient":"none","legendX":620,"legendY":48,"padding":0,"symbolType":"stroke","symbolSize":676,"labelFontSize":20,"labelColor":"#111","labelOffset":2,"clipHeight":25,"rowPadding":0.3}}}},{"data":{"values":[{"threshold":26}]},"mark":{"type":"rule","color":"#ee0000","strokeWidth":3,"strokeDash":[2.8,1.9]},"encoding":{"y":{"field":"threshold","type":"quantitative"}}},{"data":{"name":"stages"},"mark":{"type":"rule","strokeWidth":7.5},"encoding":{"x":{"field":"start","type":"quantitative","axis":{"orient":"bottom","values":[1,5,10,15,20,25,30,35,40,45,50,53],"labelExpr":"datum.value<10 ? '0'+datum.value : ''+datum.value","labelAngle":-90,"labelFontSize":12.5,"labelColor":"#222","labelPadding":3,"labelOverlap":false,"labelBound":false,"labelFlush":false,"ticks":false,"domain":false,"title":null}},"x2":{"field":"end"},"y":{"datum":0.67,"type":"quantitative"},"stroke":{"condition":{"test":"datum.stage==='Stage I'","value":"#0000cc"},"value":"#ff0000"}}},{"data":{"name":"notes"},"mark":{"type":"text","font":"Liberation Serif","color":"#ff1010"},"encoding":{"x":{"field":"week","type":"quantitative","axis":{"orient":"bottom","values":[7,20,33,46.5],"labelExpr":"datum.value==7 ? 'Jan-Mar' : datum.value==20 ? 'Apr-Jun' : datum.value==33 ? 'Jul-Sep' : 'Oct-Dec'","labelFontSize":14,"labelColor":"#222","labelPadding":26,"labelOverlap":false,"ticks":false,"domain":false,"title":"Week/Month","titleFontSize":21.3,"titleFontWeight":"normal","titleColor":"#111","titlePadding":10}},"y":{"field":"cases","type":"quantitative"},"text":{"field":"label"},"size":{"condition":{"test":"datum.label==='SARS epidemic'","value":21},"value":18.5}}},{"data":{"name":"panelLabels"},"mark":{"type":"text","fontSize":32,"font":"Liberation Sans","color":"#111","clip":false},"encoding":{"x":{"field":"week","type":"quantitative","axis":null},"y":{"field":"cases","type":"quantitative"},"text":{"field":"label"}}}]}]}
